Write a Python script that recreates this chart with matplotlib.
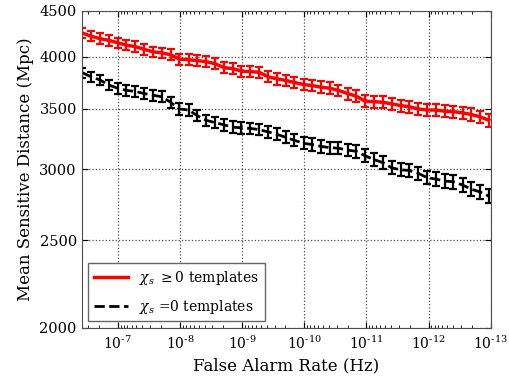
import numpy as np
import matplotlib
matplotlib.use("Agg")
import matplotlib.pyplot as plt
from matplotlib.lines import Line2D
from matplotlib.ticker import (FixedLocator, NullLocator, FixedFormatter,
                               LogLocator, FuncFormatter)

plt.rcParams["font.family"] = "DejaVu Serif"
plt.rcParams["mathtext.fontset"] = "dejavuserif"

# === DATA ===
far_exp = [-6.43, -6.57, -6.71, -6.86, -7.00, -7.14, -7.28, -7.43, -7.57, -7.71,
           -7.85, -7.99, -8.14, -8.28, -8.42, -8.56, -8.71, -8.85, -8.99, -9.13,
           -9.27, -9.42, -9.56, -9.70, -9.84, -9.99, -10.13, -10.27, -10.41, -10.55,
           -10.70, -10.84, -10.98, -11.12, -11.27, -11.41, -11.55, -11.69, -11.83, -11.98,
           -12.12, -12.26, -12.40, -12.55, -12.69, -12.83, -12.97]

dist_pos = [4250, 4215, 4190, 4170, 4145, 4120, 4105, 4075, 4050, 4040,
            4020, 3975, 3970, 3960, 3950, 3930, 3890, 3880, 3855, 3850,
            3845, 3800, 3780, 3765, 3745, 3725, 3715, 3700, 3690, 3670,
            3640, 3615, 3570, 3565, 3560, 3545, 3530, 3520, 3500, 3490,
            3490, 3480, 3475, 3465, 3450, 3430, 3400]

dist_zero = [3840, 3800, 3770, 3720, 3690, 3670, 3660, 3640, 3625, 3610,
             3560, 3500, 3490, 3440, 3400, 3380, 3360, 3340, 3335, 3330,
             3320, 3300, 3280, 3255, 3230, 3205, 3195, 3180, 3170, 3165,
             3150, 3140, 3105, 3075, 3050, 3010, 2995, 2990, 2970, 2935,
             2925, 2910, 2905, 2880, 2850, 2830, 2800]

err_pos = 55
err_zero = 50

y_ticks = [2000, 2500, 3000, 3500, 4000, 4500]
labels = [r"$\chi_s$ $\geq$0 templates", r"$\chi_s$ =0 templates"]

far = 10.0 ** np.array(far_exp)

fig = plt.figure(figsize=(5.09, 3.81), dpi=100)
ax = fig.add_axes([0.1605, 0.140, 0.8035, 0.832])

ax.errorbar(far, dist_pos, yerr=err_pos, color="red", linestyle="-", linewidth=2.5,
            capsize=2.8, elinewidth=1.6, capthick=1.6)
ax.errorbar(far, dist_zero, yerr=err_zero, color="black", linestyle="--", linewidth=2.0,
            capsize=2.8, elinewidth=1.6, capthick=1.6)

ax.set_xscale("log")
ax.set_yscale("log")
ax.set_xlim(3.8e-7, 1e-13)
ax.set_ylim(2000, 4500)


def decade_label(x, pos):
    # old-style hyphen in the exponent, like the original figure
    e = int(round(np.log10(x)))
    if e < 0:
        return "$10^{\u2010%d}$" % (-e)
    return "$10^{%d}$" % e


ax.xaxis.set_major_locator(LogLocator(base=10, numticks=20))
ax.xaxis.set_major_formatter(FuncFormatter(decade_label))
ax.xaxis.set_minor_locator(LogLocator(base=10, subs=np.arange(2, 10), numticks=20))
ax.yaxis.set_major_locator(FixedLocator(y_ticks))
ax.yaxis.set_major_formatter(FixedFormatter([str(v) for v in y_ticks]))
ax.yaxis.set_minor_locator(NullLocator())

ax.tick_params(which="both", direction="in", top=True, right=True)
ax.tick_params(axis="y", labelsize=10.5)
ax.tick_params(axis="x", labelsize=10, pad=5)
ax.tick_params(which="major", length=4)
ax.tick_params(which="minor", length=2)

ax.grid(True, which="major", linestyle=":", color="0.3", linewidth=0.9)

for s in ax.spines.values():
    s.set_color("0.3")

ax.set_xlabel("False Alarm Rate (Hz)", fontsize=12)
ax.set_ylabel("Mean Sensitive Distance (Mpc)", fontsize=12)

handles = [Line2D([], [], color="red", linestyle="-", linewidth=2.5),
           Line2D([], [], color="black", linestyle="--", linewidth=2.0)]
leg = ax.legend(handles, labels, loc="lower left", fontsize=10, fancybox=False,
                framealpha=1, edgecolor="0.4", handlelength=2.5, labelspacing=0.8,
                borderaxespad=0.45)
leg.get_frame().set_linewidth(1.0)

plt.savefig("out.png", dpi=100)
